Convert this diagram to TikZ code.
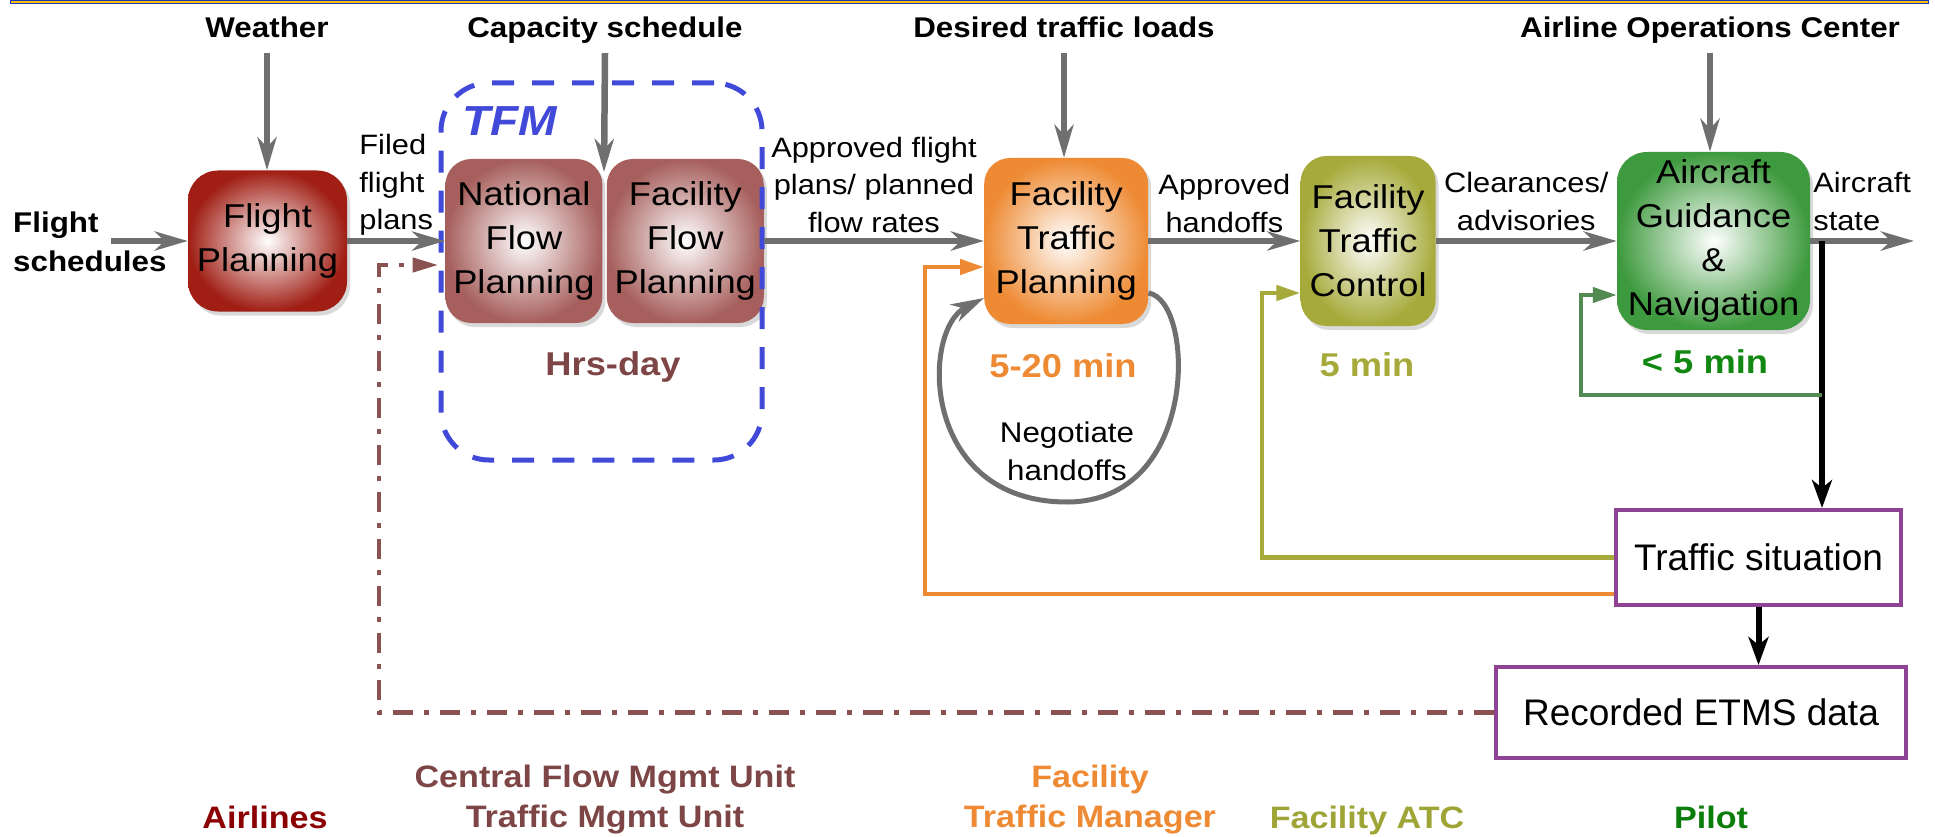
\documentclass[tikz,border=0pt]{standalone}
\usepackage{fontspec}
\setmainfont{Liberation Sans}[FakeStretch=1.1]
\newfontfamily\plainfont{Liberation Sans}
\usepackage{xcolor}
\usepackage{tikz}
\usetikzlibrary{arrows.meta,positioning,shadows}
\definecolor{airlinered}{HTML}{A01E14}
\definecolor{airlinelabel}{HTML}{8B0000}
\definecolor{flowrose}{HTML}{A65F5C}
\definecolor{unitbrown}{HTML}{7D4545}
\definecolor{managerorange}{HTML}{EE8A33}
\definecolor{atcolive}{HTML}{A6AA3A}
\definecolor{atclabel}{HTML}{9EA536}
\definecolor{pilotgreen}{HTML}{3E9A3E}
\definecolor{pilotlabel}{HTML}{0B7D0B}
\definecolor{guidancegreen}{HTML}{118811}
\definecolor{loopgreen}{HTML}{528A52}
\definecolor{arrowgray}{HTML}{6F6F6F}
\definecolor{tfmblue}{HTML}{4149D9}
\definecolor{recordbrown}{HTML}{8B5252}
\definecolor{situationpurple}{HTML}{8E4492}
\definecolor{bannerblue}{HTML}{2036C0}
\definecolor{banneryellow}{HTML}{F5C400}
\tikzset{
  stage/.style={
    rectangle,
    rounded corners=26pt,
    inner color=white,
    minimum width=157pt,
    minimum height=164pt,
    inner sep=2pt,
    align=center,
    font=\fontsize{33}{44}\selectfont,
    drop shadow={shadow xshift=3pt,shadow yshift=-4pt,opacity=.3}
  },
  record/.style={
    rectangle,
    draw=situationpurple,
    line width=4pt,
    fill=white,
    font=\plainfont\fontsize{37}{44}\selectfont
  },
  tfmbox/.style={
    draw=tfmblue,
    line width=5pt,
    rounded corners=48pt,
    dash pattern=on 22pt off 18pt
  },
  source/.style={font=\bfseries\fontsize{28.5}{34}\selectfont,text depth=0pt,inner xsep=2pt,inner ysep=15pt},
  edgeLabel/.style={font=\fontsize{28}{37.5}\selectfont,inner sep=0pt,align=center},
  period/.style={font=\bfseries\fontsize{33}{40}\selectfont,inner sep=0pt,anchor=base},
  org/.style={font=\bfseries\fontsize{31}{40}\selectfont,inner sep=0pt,align=center},
  arrow/.style={-{Stealth[length=33pt,width=19pt,inset=10pt]},line width=6.5pt,draw=arrowgray},
  feedback/.style={-{Triangle[length=24pt,width=15pt]},line width=4.5pt},
  blackArrow/.style={-{Stealth[length=28pt,width=20pt,inset=8pt]},line width=6pt,draw=black},
  records/.style={-{Triangle[length=26pt,width=14pt]},line width=4.5pt,draw=recordbrown,
    dash pattern=on 20pt off 11pt on 5pt off 11pt}
}
\begin{document}
\begin{tikzpicture}[x=1pt,y=-1pt]
  \useasboundingbox (0,0) rectangle (1935,837);
  \draw[draw=bannerblue,fill=banneryellow,line width=1pt] (10,0.5) rectangle (1928,4);

  \node[stage, outer color=airlinered, minimum width=159pt, minimum height=141pt,
        rounded corners=30pt] (fplan) at (267.5,241) {Flight\\Planning};
  \node[stage, outer color=flowrose, right=98pt of fplan] (nfp) {National\\Flow\\Planning};
  \node[stage, outer color=flowrose, right=4pt of nfp] (ffp) {Facility\\Flow\\Planning};
  \node[stage, outer color=managerorange, minimum width=164pt, minimum height=166pt,
        right=220pt of ffp] (ftp) {Facility\\Traffic\\Planning};
  \node[stage, outer color=atcolive, minimum width=135pt, minimum height=170pt,
        right=152pt of ftp] (ftc) {Facility\\Traffic\\Control};
  \node[stage, outer color=pilotgreen, minimum width=193pt, minimum height=178pt,
        rounded corners=30pt, right=181pt of ftc] (agn) {Aircraft\\Guidance\\\&\\Navigation};

  \node[record, minimum width=285pt, minimum height=95pt] (ts) at (1758.5,557.5) {Traffic situation};
  \node[record, minimum width=410pt, minimum height=91pt] (etms) at (1701,712.5) {Recorded ETMS data};

  \node[tfmbox, minimum width=321pt, minimum height=377pt] (tfm) at (601.5,271.5) {};
  \node[font=\bfseries\itshape\fontsize{42}{42}\selectfont, text=tfmblue, inner sep=0pt,
        anchor=base west] (tfmLabel) at (462,136) {TFM};

  \node[source, anchor=base] (weather) at (267,38) {Weather};
  \node[source, anchor=base] (capacity) at (605,38) {Capacity schedule};
  \node[source, anchor=base] (loads) at (1064,38) {Desired traffic loads};
  \node[source, anchor=base] (aoc) at (1710,38) {Airline Operations Center};
  \node[font=\bfseries\fontsize{28.5}{39}\selectfont, align=left, inner sep=0pt,
        anchor=west] (schedules) at (13,242) {Flight\\schedules};

  \coordinate (schedIn) at (111,241);
  \coordinate (capIn) at (604,172);
  \coordinate (stateOut) at (1914,241);
  \coordinate (stateTap) at (1822,241);
  \coordinate (pilotTap) at (1822,395);
  \coordinate (pilotLoop) at (1581,295);
  \coordinate (atcLoop) at (1262,293);
  \coordinate (managerLoop) at (925,267);
  \coordinate (recordLoop) at (379,265);

  \draw[arrow] (weather.south) -- (weather.south |- fplan.north);
  \draw[arrow] (capacity.south) -- (capIn);
  \draw[arrow] (loads.south) -- (loads.south |- ftp.north);
  \draw[arrow] (aoc.south) -- (aoc.south |- agn.north);

  \draw[arrow] (schedIn) -- (fplan);
  \draw[arrow] (fplan) -- node[edgeLabel, above=2pt, align=left] {Filed\\flight\\plans} (nfp);
  \draw[arrow] (ffp) -- node[edgeLabel, above=5pt] {Approved flight\\plans/ planned\\flow rates} (ftp);
  \draw[arrow] (ftp) -- node[edgeLabel, above=5pt] {Approved\\handoffs} (ftc);
  \draw[arrow] (ftc) -- node[edgeLabel, above=7pt] {Clearances/\\advisories} (agn);
  \draw[arrow] (agn) -- node[edgeLabel, above=7pt, align=left] {Aircraft\\state} (stateOut);

  \draw[arrow, line width=5pt] ([yshift=-52pt]ftp.east) .. controls +(47,7) and +(133,0) .. (1067,502)
    .. controls +(-147,0) and +(-63,32) .. ([yshift=-57pt]ftp.west);
  \node[font=\fontsize{28.5}{38}\selectfont, inner sep=0pt, align=center, anchor=south]
    (negotiate) at (1067,481) {Negotiate\\handoffs};

  \draw[blackArrow] (stateTap) -- (stateTap |- ts.north);
  \draw[blackArrow] (ts.south) -- (ts.south |- etms.north);

  \draw[feedback, draw=loopgreen, line width=4pt] (pilotTap) -| (pilotLoop) -- (pilotLoop -| agn.west);
  \draw[feedback, draw=atcolive] (ts.west) -| (atcLoop) -- (atcLoop -| ftc.west);
  \draw[feedback, draw=managerorange] ([yshift=-36.5pt]ts.west) -| (managerLoop) -- (managerLoop -| ftp.west);
  \draw[records] (etms.west) -| (recordLoop) -- (recordLoop -| tfm.west);

  \node[period, text=unitbrown] (hrsday) at (613,375) {Hrs-day};
  \node[period, text=managerorange] (ftpTime) at (1063,377) {5-20 min};
  \node[period, text=atcolive] (ftcTime) at (1367,376) {5 min};
  \node[period, text=guidancegreen] (agnTime) at (1705,373) {< 5 min};

  \node[org, text=airlinelabel, anchor=base] (airlines) at (265,828) {Airlines};
  \node[org, text=unitbrown, anchor=south] (cfmu) at (605,834) {Central Flow Mgmt Unit\\Traffic Mgmt Unit};
  \node[org, text=managerorange, anchor=south] (ftm) at (1090,834) {Facility\\Traffic Manager};
  \node[org, text=atclabel, anchor=base] (atc) at (1367,828) {Facility ATC};
  \node[org, text=pilotlabel, anchor=base] (pilot) at (1711,828) {Pilot};
\end{tikzpicture}
\end{document}
